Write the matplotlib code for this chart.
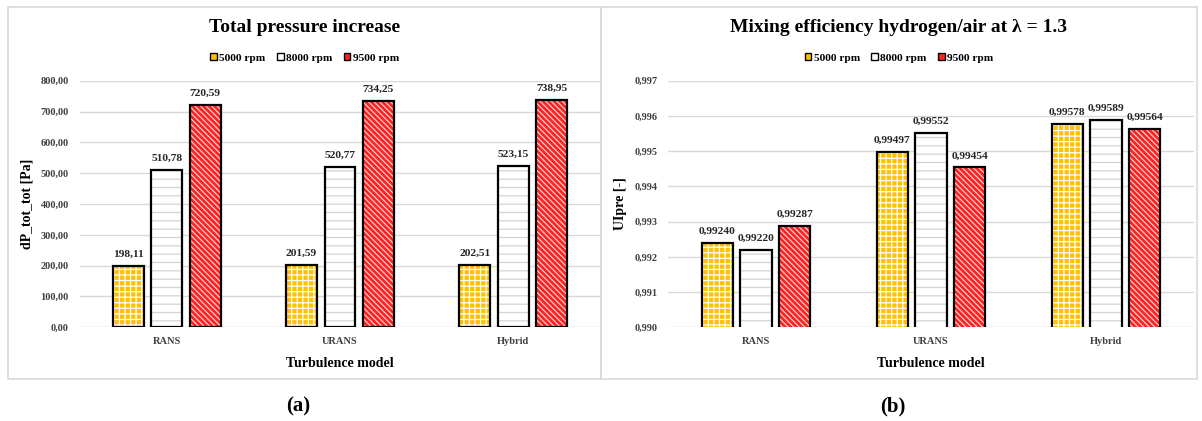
import matplotlib
matplotlib.use("Agg")
import matplotlib.pyplot as plt
from matplotlib.patches import Patch, Rectangle

plt.rcParams["font.family"] = ["Liberation Serif", "DejaVu Serif"]
plt.rcParams["font.weight"] = "bold"
plt.rcParams["hatch.linewidth"] = 0.9

models = ["RANS", "URANS", "Hybrid"]
speeds = ["5000 rpm", "8000 rpm", "9500 rpm"]

# (a) total pressure increase [Pa]
dp_5000 = [198.11, 201.59, 202.51]
dp_8000 = [510.78, 520.77, 523.15]
dp_9500 = [720.59, 734.25, 738.95]

# (b) mixing efficiency UIpre [-]
ui_5000 = [0.99240, 0.99497, 0.99578]
ui_8000 = [0.99220, 0.99552, 0.99589]
ui_9500 = [0.99287, 0.99454, 0.99564]

# fill colour, hatch, hatch colour per speed
styles = [("#ffc000", "+++", "white"),
          ("white", "--", "#d4d4d4"),
          ("#ff2020", "\\\\\\\\\\\\", "#ffd0d0")]

W, H = 1202, 421
fig = plt.figure(figsize=(W / 100, H / 100), dpi=100)


def fx(x):
    return x / W


def fy(y):
    return 1 - y / H


# panel frames
for x0, x1 in [(8, 601), (601, 1197)]:
    fig.add_artist(Rectangle((fx(x0), fy(379)), fx(x1 - x0), (379 - 7) / H,
                             transform=fig.transFigure, fill=False,
                             ec="#d9d9d9", lw=1.2))


def panel(left_px, right_px, series, ylim, yticks, tick_fmt, val_fmt,
          ylabel, ylabel_x, title, panel_center):
    ax = fig.add_axes([fx(left_px), fy(327.3), fx(right_px - left_px),
                       (327.3 - 80.7) / H])
    bw, step = 0.178, 0.222
    for k, vals in enumerate(series):
        fc, hatch, hc = styles[k]
        xs = [i + (k - 1) * step for i in range(len(models))]
        ax.bar(xs, vals, bw, color=fc, hatch=hatch, edgecolor=hc, lw=0,
               zorder=2)
        ax.bar(xs, vals, bw, fill=False, edgecolor="black", lw=1.6, zorder=3)
        for x, v in zip(xs, vals):
            ax.annotate(val_fmt(v), (x, v), xytext=(0, 5),
                        textcoords="offset points", ha="center", va="bottom",
                        fontsize=8.2, fontweight="bold", color="#262626")
    ax.set_xlim(-0.5, 2.5)
    ax.set_ylim(*ylim)
    ax.set_yticks(yticks)
    ax.set_yticklabels([tick_fmt(t) for t in yticks])
    ax.set_xticks(range(len(models)))
    ax.set_xticklabels(models)
    ax.tick_params(length=0, labelsize=7.5, colors="#404040")
    ax.tick_params(axis="x", pad=7)
    ax.tick_params(axis="y", pad=8)
    ax.grid(axis="y", color="#d9d9d9", lw=1, zorder=0)
    for s in ax.spines.values():
        s.set_visible(False)
    ax.set_xlabel("Turbulence model", fontsize=10, fontweight="bold")
    ax.xaxis.set_label_coords(0.5, -0.12)
    ax.set_ylabel(ylabel, fontsize=10, fontweight="bold")
    ax.yaxis.set_label_coords(ylabel_x, 0.5)
    fig.text(fx(panel_center), fy(28), title, fontsize=14, fontweight="bold",
             ha="center", va="center")
    handles = [Patch(facecolor=styles[k][0], edgecolor="black", lw=1)
               for k in range(3)]
    fig.legend(handles, speeds, loc="center", ncol=3, frameon=False,
               bbox_to_anchor=(fx(panel_center), fy(58)),
               prop={"size": 8.2, "weight": "bold"}, handlelength=0.6,
               handleheight=0.6, handletextpad=0.2, columnspacing=1.0)
    return ax


panel(80, 600, [dp_5000, dp_8000, dp_9500], (0, 800), range(0, 801, 100),
      lambda t: f"{t:.2f}".replace(".", ","),
      lambda v: f"{v:.2f}".replace(".", ","),
      "dP_tot_tot [Pa]", -0.09, "Total pressure increase", 304.5)

ui_ticks = [0.990, 0.991, 0.992, 0.993, 0.994, 0.995, 0.996, 0.997]
panel(668.5, 1193.5, [ui_5000, ui_8000, ui_9500], (0.990, 0.997), ui_ticks,
      lambda t: f"{t:.3f}".replace(".", ","),
      lambda v: f"{v:.5f}".replace(".", ","),
      "UIpre [-]", -0.079, "Mixing efficiency hydrogen/air at \u03bb = 1.3",
      899)

fig.text(fx(298), fy(406), "(a)", fontsize=15, fontweight="bold",
         ha="center", va="center")
fig.text(fx(893), fy(406), "(b)", fontsize=15, fontweight="bold",
         ha="center", va="center")

fig.savefig("out.png", dpi=100)
